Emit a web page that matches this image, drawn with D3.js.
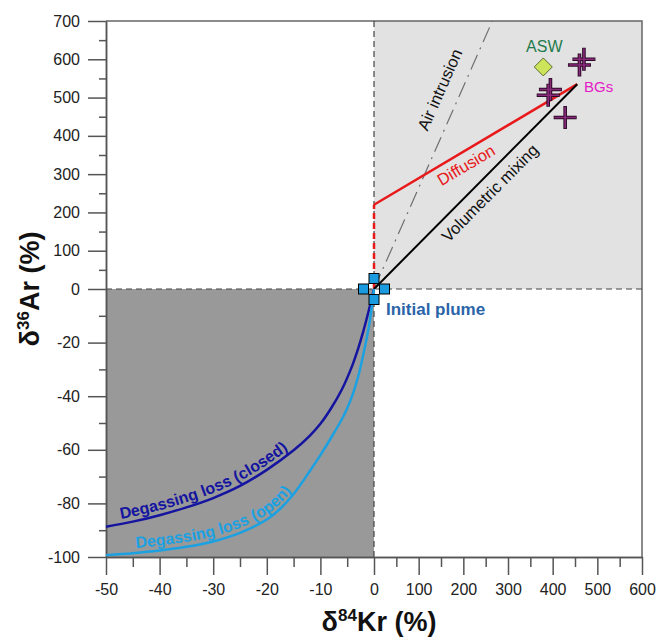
<!DOCTYPE html>
<html>
<head>
<meta charset="utf-8">
<script src="https://cdn.jsdelivr.net/npm/d3@7"></script>
<style>
  body { margin: 0; background: #fff; }
  svg { display: block; font-family: "Liberation Sans", Arial, sans-serif; }
</style>
</head>
<body>
<div id="chart"></div>
<script>
// piecewise axes: left/bottom halves are compressed scales
const xMajorTicks = [-50, -40, -30, -20, -10, 0, 100, 200, 300, 400, 500, 600];
const xMinorTicks = [-45, -35, -25, -15, -5, 50, 150, 250, 350, 450, 550];
const yMajorTicks = [-100, -80, -60, -40, -20, 0, 100, 200, 300, 400, 500, 600, 700];
const yMinorTicks = [-90, -70, -50, -30, -10, 50, 150, 250, 350, 450, 550, 650];

// model lines (dKr, dAr)
const origin = [0, 0];
const bgEnd = [455, 535];
const diffusionKink = [0, 220];
const airTop = [265, 700];

// degassing curves
const closedCurve = [[-50, -88.7], [-45, -86.8], [-40, -84.4], [-35, -81.5], [-30, -78], [-25, -73.5],
  [-20, -67.5], [-15, -60.2], [-12, -54.8], [-10, -50.3], [-8, -44.5], [-6, -37.5], [-4, -28.3],
  [-3, -22.5], [-2, -15.8], [-1, -8.2], [-0.5, -4.1], [0, 0]];
const openCurve = [[-50, -99.3], [-45, -98.6], [-40, -97.6], [-35, -96.2], [-30, -94.2], [-25, -91],
  [-20, -86], [-17.5, -82], [-15, -76.5], [-12, -68], [-10, -62], [-8, -55.5], [-6, -48.6], [-5, -44.5],
  [-4, -39.5], [-3, -33], [-2, -24.5], [-1, -14.5], [-0.5, -8], [0, 0]];

// samples
const aswPoint = [379, 580];
const bgPoints = [[470, 600], [460, 585], [395, 521], [390, 506], [428, 448]];

const width = 657, height = 637;

const svg = d3.select("#chart").append("svg")
  .attr("width", width)
  .attr("height", height);

const x = d3.scaleLinear().domain([-50, 0, 600]).range([106, 374, 642]);
const y = d3.scaleLinear().domain([-100, 0, 700]).range([557, 289, 21]);

// quadrant backgrounds
svg.append("rect")
  .attr("x", x(0)).attr("y", y(700))
  .attr("width", x(600) - x(0)).attr("height", y(0) - y(700))
  .attr("fill", "#e2e2e2");
svg.append("rect")
  .attr("x", x(-50)).attr("y", y(0))
  .attr("width", x(0) - x(-50)).attr("height", y(-100) - y(0))
  .attr("fill", "#999999");

// frame top + right
svg.append("path")
  .attr("d", `M${x(-50)},${y(700)}H${x(600)}V${y(-100)}`)
  .attr("fill", "none").attr("stroke", "#666").attr("stroke-width", 1.5);

// zero lines
svg.append("line")
  .attr("x1", x(-50)).attr("x2", x(600)).attr("y1", y(0)).attr("y2", y(0))
  .attr("stroke", "#444").attr("stroke-width", 1.2).attr("stroke-dasharray", "6,4");
svg.append("line")
  .attr("x1", x(0)).attr("x2", x(0)).attr("y1", y(700)).attr("y2", y(-100))
  .attr("stroke", "#444").attr("stroke-width", 1.2).attr("stroke-dasharray", "6,4");

// axes
const fmt = d => String(d);
const styleAxis = g => {
  g.select(".domain").attr("stroke", "#555").attr("stroke-width", 1.5);
  g.selectAll(".tick line").attr("stroke", "#555").attr("stroke-width", 1.5);
  g.selectAll(".tick text").attr("fill", "#222").attr("font-size", 16)
    .attr("font-family", "Liberation Sans, Arial, sans-serif");
};

svg.append("g")
  .attr("transform", `translate(0,${y(-100)})`)
  .call(d3.axisBottom(x).tickValues(xMinorTicks).tickSize(10).tickFormat("").tickSizeOuter(0))
  .call(styleAxis);
svg.append("g")
  .attr("transform", `translate(0,${y(-100)})`)
  .call(d3.axisBottom(x).tickValues(xMajorTicks).tickSize(18).tickPadding(9).tickFormat(fmt).tickSizeOuter(0))
  .call(styleAxis);

svg.append("g")
  .attr("transform", `translate(${x(-50)},0)`)
  .call(d3.axisLeft(y).tickValues(yMinorTicks).tickSize(7).tickFormat("").tickSizeOuter(0))
  .call(styleAxis);
svg.append("g")
  .attr("transform", `translate(${x(-50)},0)`)
  .call(d3.axisLeft(y).tickValues(yMajorTicks).tickSize(18).tickPadding(8).tickFormat(fmt).tickSizeOuter(0))
  .call(styleAxis);

// axis titles
svg.append("text")
  .attr("transform", `translate(39,${y(0)}) rotate(-90)`)
  .attr("text-anchor", "middle")
  .attr("font-size", 27).attr("font-weight", "bold").attr("fill", "#111")
  .html('δ<tspan font-size="17" dy="-10">36</tspan><tspan dy="10">Ar (%)</tspan>');
svg.append("text")
  .attr("x", x(0) + 5).attr("y", 631)
  .attr("text-anchor", "middle")
  .attr("font-size", 27).attr("font-weight", "bold").attr("fill", "#111")
  .html('δ<tspan font-size="17" dy="-10">84</tspan><tspan dy="10">Kr (%)</tspan>');

const line = d3.line().x(d => x(d[0])).y(d => y(d[1]));

// air intrusion
svg.append("path")
  .attr("d", line([origin, airTop]))
  .attr("fill", "none").attr("stroke", "#6f6f6f").attr("stroke-width", 1.2)
  .attr("stroke-dasharray", "16,6,2,6");

// diffusion
svg.append("path")
  .attr("d", line([origin, diffusionKink]))
  .attr("fill", "none").attr("stroke", "#e8191a").attr("stroke-width", 2.5)
  .attr("stroke-dasharray", "6,4");
svg.append("path")
  .attr("d", line([diffusionKink, bgEnd]))
  .attr("fill", "none").attr("stroke", "#e8191a").attr("stroke-width", 2.5);

// volumetric mixing
svg.append("path")
  .attr("d", line([origin, bgEnd]))
  .attr("fill", "none").attr("stroke", "#000").attr("stroke-width", 2);

// degassing curves
const curve = d3.line().x(d => x(d[0])).y(d => y(d[1])).curve(d3.curveCatmullRom.alpha(0.5));
svg.append("path").attr("d", curve(closedCurve))
  .attr("fill", "none").attr("stroke", "#1414a0").attr("stroke-width", 2.5);
svg.append("path").attr("d", curve(openCurve))
  .attr("fill", "none").attr("stroke", "#1ba1e2").attr("stroke-width", 2.5);

// label paths (shifted above the curves)
const shifted = d3.line().x(d => x(d[0])).y(d => y(d[1]) - 5).curve(d3.curveCatmullRom.alpha(0.5));
const defs = svg.append("defs");
defs.append("path").attr("id", "closedPath").attr("d", shifted(closedCurve));
defs.append("path").attr("id", "openPath").attr("d", shifted(openCurve));

svg.append("text")
  .attr("font-size", 16).attr("font-weight", "bold").attr("fill", "#1414a0")
  .append("textPath").attr("href", "#closedPath").attr("startOffset", 15)
  .text("Degassing loss (closed)");
svg.append("text")
  .attr("font-size", 16).attr("font-weight", "bold").attr("fill", "#1ba1e2")
  .append("textPath").attr("href", "#openPath").attr("startOffset", 30)
  .text("Degassing loss (open)");

// rotated line labels
const angleOf = (a, b) => Math.atan2(y(b[1]) - y(a[1]), x(b[0]) - x(a[0])) * 180 / Math.PI;

svg.append("text")
  .attr("transform", `translate(445,92) rotate(${angleOf(origin, airTop)})`)
  .attr("text-anchor", "middle").attr("font-size", 16.5).attr("fill", "#111")
  .text("Air intrusion");
svg.append("text")
  .attr("transform", `translate(469,170) rotate(${angleOf(diffusionKink, bgEnd)})`)
  .attr("text-anchor", "middle").attr("font-size", 16.5).attr("fill", "#e8191a")
  .text("Diffusion");
svg.append("text")
  .attr("transform", `translate(494,197) rotate(${angleOf(origin, bgEnd)})`)
  .attr("text-anchor", "middle").attr("font-size", 16.5).attr("fill", "#111")
  .text("Volumetric mixing");

// ASW
svg.append("path")
  .attr("transform", `translate(${x(aswPoint[0])},${y(aswPoint[1])})`)
  .attr("d", "M0,-9L9,0L0,9L-9,0Z")
  .attr("fill", "#cde35a").attr("stroke", "#556b2f").attr("stroke-width", 1);
svg.append("text")
  .attr("x", x(aswPoint[0]) + 1).attr("y", y(aswPoint[1]) - 15)
  .attr("text-anchor", "middle").attr("font-size", 16).attr("fill", "#1f7a4d")
  .text("ASW");

// BGs
svg.selectAll("path.bg-out").data(bgPoints).enter().append("path")
  .attr("class", "bg-out")
  .attr("transform", d => `translate(${x(d[0])},${y(d[1])})`)
  .attr("d", "M-11.5,0H11.5M0,-11.5V11.5").attr("stroke", "#2a0a25").attr("stroke-width", 3.6).attr("fill", "none");
svg.selectAll("path.bg-in").data(bgPoints).enter().append("path")
  .attr("class", "bg-in")
  .attr("transform", d => `translate(${x(d[0])},${y(d[1])})`)
  .attr("d", "M-10.8,0H10.8M0,-10.8V10.8").attr("stroke", "#8a2a7c").attr("stroke-width", 1.6).attr("fill", "none");
svg.append("text")
  .attr("x", 584).attr("y", 92)
  .attr("font-size", 15).attr("fill", "#e619c8")
  .text("BGs");

// initial plume marker (plus of four squares)
const plumeOffsets = [[0, -10.5], [0, 10.5], [-10.5, 0], [10.5, 0]];
svg.selectAll("rect.plume").data(plumeOffsets).enter().append("rect")
  .attr("class", "plume")
  .attr("x", d => x(0) + d[0] - 5).attr("y", d => y(0) + d[1] - 5)
  .attr("width", 10).attr("height", 10)
  .attr("fill", "#1a9be0").attr("stroke", "#000").attr("stroke-width", 1);
svg.append("text")
  .attr("x", 386).attr("y", 315)
  .attr("font-size", 17).attr("font-weight", "bold").attr("fill", "#2a64a8")
  .text("Initial plume");
</script>
</body>
</html>
